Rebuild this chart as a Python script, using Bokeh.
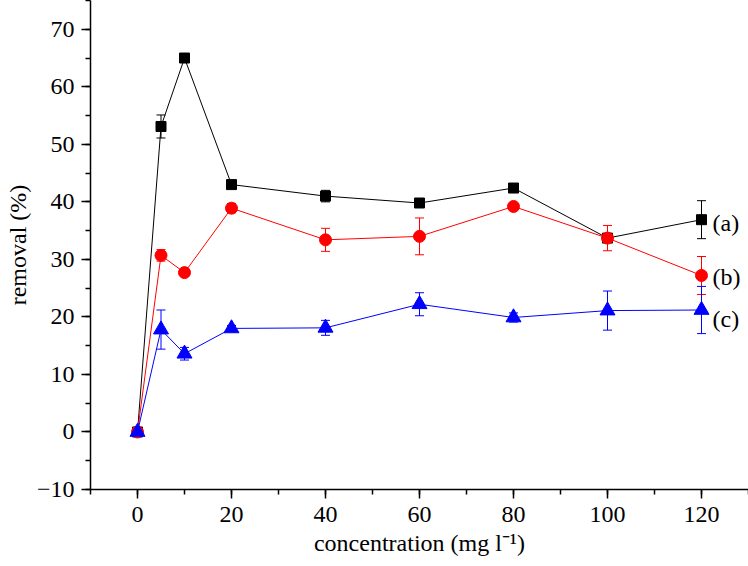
from bokeh.plotting import figure
from bokeh.models import ColumnDataSource, Whisker, TeeHead, SingleIntervalTicker
from bokeh.core.properties import value
from bokeh.embed import file_html
from bokeh.resources import INLINE

# data
conc = [0, 5, 10, 20, 40, 60, 80, 100, 120]
removal_a = [0, 53.1, 65.0, 43.0, 41.0, 39.8, 42.4, 33.7, 36.9]
err_a = [0, 2.0, 0.3, 0.6, 1.0, 0.4, 0.4, 0.5, 3.3]
removal_b = [0, 30.7, 27.7, 38.9, 33.4, 34.0, 39.2, 33.7, 27.2]
err_b = [0, 1.0, 0.4, 0.8, 2.0, 3.2, 0.5, 2.2, 3.3]
removal_c = [0, 17.8, 13.6, 18.0, 18.1, 22.2, 19.9, 21.1, 21.2]
err_c = [0, 3.4, 1.1, 0.5, 1.3, 2.0, 0.8, 3.4, 4.1]
series_labels = ["(a)", "(b)", "(c)"]
label_y = [36.4, 27.0, 19.7]

FONT = "Liberation Serif"
FS = "24px"

p = figure(width=748, height=566, x_range=(-10, 130), y_range=(-10, 75),
           output_backend="svg", toolbar_location=None,
           min_border_left=90, min_border_right=0, min_border_top=0, min_border_bottom=77)
p.outline_line_color = None
p.xgrid.visible = False
p.ygrid.visible = False
p.background_fill_color = "white"

p.xaxis.ticker = SingleIntervalTicker(interval=20, num_minor_ticks=2)
p.yaxis.ticker = SingleIntervalTicker(interval=10, num_minor_ticks=2)
p.yaxis.major_label_overrides = {-10: "\u221210"}

for ax in (p.xaxis, p.yaxis):
    ax.axis_line_color = "black"
    ax.axis_line_width = 1.5
    ax.major_tick_line_width = 1.5
    ax.minor_tick_line_width = 1.5
    ax.major_tick_out = 9
    ax.major_tick_in = 0
    ax.minor_tick_out = 5
    ax.minor_tick_in = 0
    ax.major_label_text_font = FONT
    ax.major_label_text_font_size = FS
    ax.major_label_text_color = "black"
    ax.axis_label_text_font = FONT
    ax.axis_label_text_font_size = FS
    ax.axis_label_text_font_style = "normal"
    ax.axis_label_text_color = "black"

p.xaxis.axis_label = "concentration (mg l\u207b\u00b9)"
p.yaxis.axis_label = "removal (%)"
p.xaxis.major_label_standoff = 8
p.yaxis.major_label_standoff = 7
p.xaxis.axis_label_standoff = 5
p.yaxis.axis_label_standoff = 3

def add_series(y, err, color, marker, size):
    src = ColumnDataSource(dict(x=conc, y=y,
                                lo=[a - e for a, e in zip(y, err)],
                                hi=[a + e for a, e in zip(y, err)]))
    p.line("x", "y", source=src, line_color=color, line_width=1)
    w = Whisker(base="x", upper="hi", lower="lo", source=src, dimension="height",
                line_color=color, line_width=1,
                upper_head=TeeHead(size=9, line_color=color, line_width=1),
                lower_head=TeeHead(size=9, line_color=color, line_width=1))
    p.add_layout(w)
    p.scatter("x", "y", source=src, marker=marker, size=size,
              fill_color=color, line_color=color)

add_series(removal_a, err_a, "black", "square", 10)
add_series(removal_b, err_b, "red", "circle", 12)
add_series(removal_c, err_c, "blue", "triangle", 15)

lab_src = ColumnDataSource(dict(x=[conc[-1]] * 3, y=label_y, t=series_labels))
p.text("x", "y", text="t", source=lab_src, x_offset=11, text_baseline="middle",
       text_align="left", text_font=value(FONT), text_font_size=FS, text_color="black")

open("out.html", "w").write(file_html(p, INLINE))
